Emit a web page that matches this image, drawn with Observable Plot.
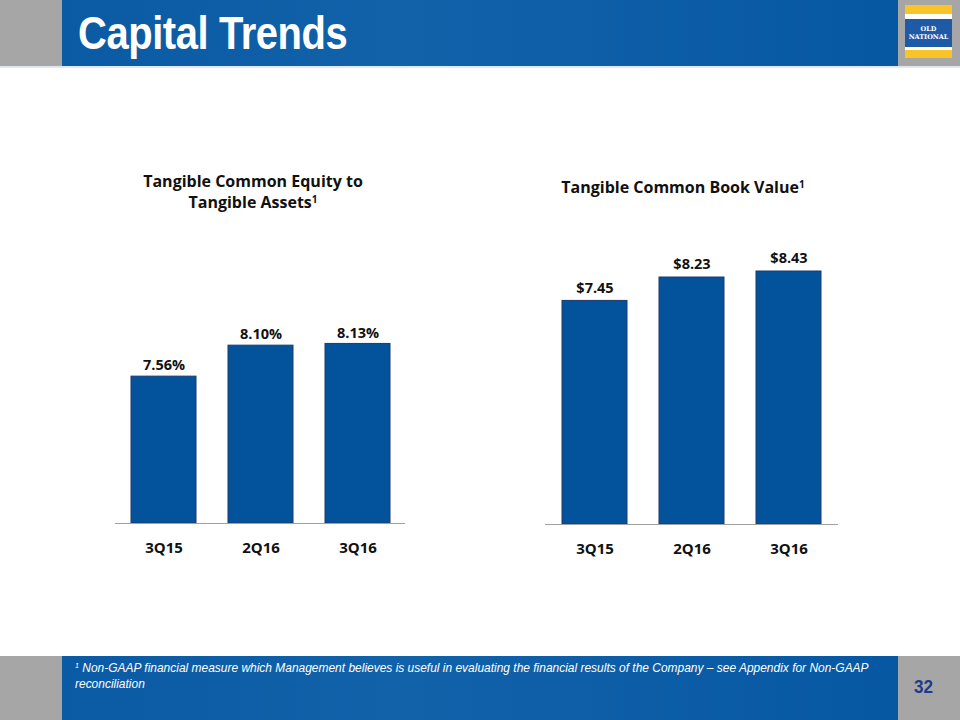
<!DOCTYPE html>
<html>
<head>
<meta charset="utf-8">
<script src="https://cdn.jsdelivr.net/npm/d3@7"></script>
<script src="https://cdn.jsdelivr.net/npm/@observablehq/plot@0.6"></script>
<style>
  html, body { margin: 0; padding: 0; background: #fff; }
  #page { position: relative; width: 960px; height: 720px; overflow: hidden; background: #fff; font-family: "Liberation Sans", Arial, sans-serif; }
  .gray { position: absolute; background: #a6a6a6; }
  .band { position: absolute; left: 62px; width: 836px;
    background: linear-gradient(90deg, #0a5aa4 0%, #1262aa 40%, #0e5ea8 60%, #0758a3 100%); }
  #title { position: absolute; left: 78px; top: 5px; color: #fff; font-family: "Liberation Sans", Arial, sans-serif; font-weight: bold; font-size: 47px; letter-spacing: -0.5px; transform: scaleX(0.85); transform-origin: 0 0; white-space: nowrap; }
  #logo { position: absolute; left: 905px; top: 5px; width: 47px; height: 53px; background: #f9c427; }
  #logo .w { position: absolute; left: 0; width: 47px; background: #fff; }
  #logo .b { position: absolute; left: 0; top: 14px; width: 47px; height: 28px; background: #1f5aa6; color: #fff; font-family: "DejaVu Serif", "Liberation Serif", serif; font-weight: bold; font-size: 6.5px; text-align: center; line-height: 8px; padding-top: 6px; box-sizing: border-box; }
  .ctitle { position: absolute; text-align: center; font-family: "Open Sans", sans-serif; font-weight: bold; font-size: 16px; color: #111; line-height: 21px; }
  .ctitle sup { font-size: 10px; vertical-align: 5px; line-height: 0; }
  #foot { position: absolute; left: 75px; top: 660px; color: #fff; font-family: "Liberation Sans", Arial, sans-serif; font-style: italic; font-size: 13.5px; line-height: 16px; transform: scaleX(0.886); transform-origin: 0 0; white-space: nowrap; }
  #foot sup { font-size: 8px; vertical-align: 4px; line-height: 0; }
  #pnum { position: absolute; left: 914px; top: 676px; color: #1f3a8a; font-family: "Liberation Sans", Arial, sans-serif; font-weight: bold; font-size: 19px; transform: scaleX(0.9); transform-origin: 0 0; }
  .chart { position: absolute; }
</style>
</head>
<body>
<div id="page">
  <div class="gray" style="left:0;top:0;width:62px;height:66px"></div>
  <div class="band" style="top:0;height:66px"></div>
  <div class="gray" style="left:898px;top:0;width:62px;height:66px"></div>
  <div style="position:absolute;left:0;top:66px;width:960px;height:2px;background:#dfe8f2"></div>
  <div id="title">Capital Trends</div>
  <div id="logo">
    <div class="w" style="top:9px;height:5px"></div>
    <div class="b">OLD<br>NATIONAL</div>
    <div class="w" style="top:42px;height:3px"></div>
  </div>

  <div class="ctitle" style="left:103px;top:171px;width:300px">Tangible Common Equity to<br>Tangible Assets<sup>1</sup></div>
  <div class="ctitle" style="left:533px;top:177px;width:300px">Tangible Common Book Value<sup>1</sup></div>

  <div id="leftChart" class="chart" style="left:100px;top:290px"></div>
  <div id="rightChart" class="chart" style="left:530px;top:240px"></div>

  <div class="gray" style="left:0;top:656px;width:62px;height:64px"></div>
  <div class="band" style="top:656px;height:64px"></div>
  <div class="gray" style="left:898px;top:656px;width:62px;height:64px"></div>
  <div id="foot"><sup>1</sup> Non-GAAP financial measure which Management believes is useful in evaluating the financial results of the Company – see Appendix for Non-GAAP<br>reconciliation</div>
  <div id="pnum">32</div>
</div>
<script>
const quarters = ["3Q15", "2Q16", "3Q16"];
const tceRatio = [7.56, 8.10, 8.13];
const tceLabels = ["7.56%", "8.10%", "8.13%"];
const bookValue = [7.45, 8.23, 8.43];
const bookLabels = ["$7.45", "$8.23", "$8.43"];

const barFill = "#03529c";
const barStroke = "#1c3a6b";
const fontFam = "'Open Sans', sans-serif";

function makeChart(values, labels, opts) {
  const data = quarters.map((q, i) => ({q, v: values[i], label: labels[i]}));
  return Plot.plot({
    width: 320,
    height: opts.height,
    marginLeft: 15,
    marginRight: opts.marginRight,
    marginTop: opts.marginTop,
    marginBottom: opts.marginBottom,
    style: {fontFamily: fontFam, background: "transparent", overflow: "visible"},
    x: {domain: quarters, paddingInner: 0.333, paddingOuter: opts.padOuter, label: null},
    y: {domain: opts.yDomain, axis: null},
    marks: [
      Plot.barY(data, {x: "q", y1: opts.yDomain[0], y2: "v", fill: barFill, stroke: barStroke, strokeWidth: 1}),
      Plot.ruleY([opts.yDomain[0]], {stroke: "#a0a0a0", strokeWidth: 1.2}),
      Plot.text(data, {x: "q", y: "v", text: "label", dy: opts.labelDy, fontSize: 14.5, fontWeight: "bold", fill: "#111"}),
      Plot.axisX({tickSize: 0, tickPadding: 19, fontSize: 15, fontWeight: "bold", fill: "#111", label: null})
    ]
  });
}

document.getElementById("leftChart").appendChild(makeChart(tceRatio, tceLabels, {
  height: 280, marginTop: 15, marginBottom: 47, marginRight: 15, padOuter: 0.154,
  yDomain: [5, 8.8], labelDy: -11
}));
document.getElementById("rightChart").appendChild(makeChart(bookValue, bookLabels, {
  height: 330, marginTop: 10, marginBottom: 46, marginRight: 12, padOuter: 0.17,
  yDomain: [0, 9.13], labelDy: -13
}));
</script>
</body>
</html>
